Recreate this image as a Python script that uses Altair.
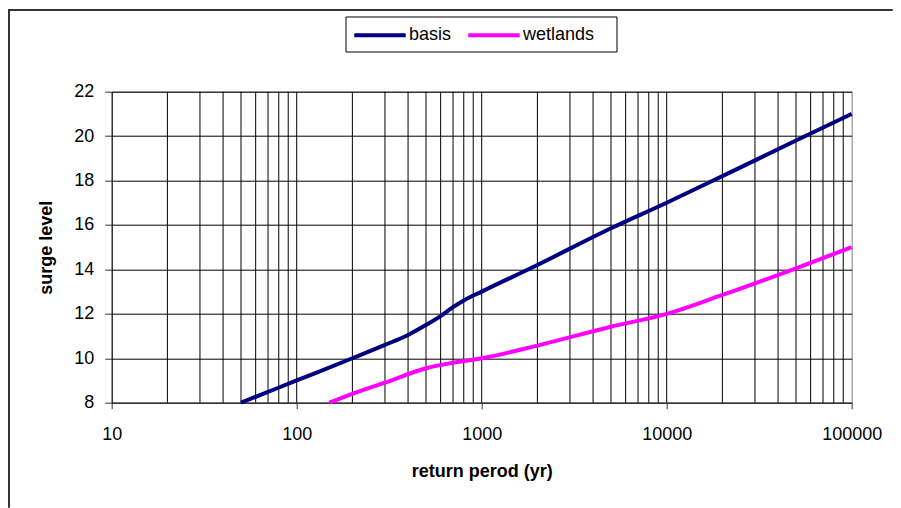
import altair as alt
import pandas as pd

# ---- data ----
basis_period = [50, 100, 200, 300, 400, 500, 600, 700, 800, 1000, 2000, 5000, 10000, 20000, 50000, 100000]
basis_level = [8.0, 9.0, 10.0, 10.6, 11.05, 11.5, 11.9, 12.3, 12.6, 13.0, 14.2, 15.85, 17.0, 18.2, 19.8, 21.0]

wet_period = [150, 200, 300, 500, 700, 1000, 2000, 5000, 10000, 20000, 50000, 100000]
wet_level = [8.0, 8.4, 8.9, 9.55, 9.8, 10.0, 10.57, 11.42, 12.0, 12.85, 14.05, 15.0]

series_names = ["basis", "wetlands"]
series_colors = ["#000080", "#FF00FF"]

x_ticks = [10, 100, 1000, 10000, 100000]
y_ticks = [8, 10, 12, 14, 16, 18, 20, 22]
minor_grid = [m * d for d in [10, 100, 1000, 10000] for m in range(1, 10)][1:]

FONT = "Liberation Sans"

df = pd.concat([
    pd.DataFrame({"period": basis_period, "level": basis_level, "series": "basis"}),
    pd.DataFrame({"period": wet_period, "level": wet_level, "series": "wetlands"}),
])
grid_df = pd.DataFrame({"period": minor_grid})

xscale = alt.Scale(type="log", domain=[10, 100000])
yscale = alt.Scale(domain=[8, 22])

one = pd.DataFrame({"a": [0]})

# outer chart frame (decoration): thin filled bars for top and left edges
frame_top = alt.Chart(one).mark_rect(fill="#333333", strokeWidth=0).encode(
    x=alt.value(-103.7), x2=alt.value(781), y=alt.value(-82.7), y2=alt.value(-80.7)
)
frame_left = alt.Chart(one).mark_rect(fill="#333333", strokeWidth=0).encode(
    x=alt.value(-103.7), x2=alt.value(-101.7), y=alt.value(-82.7), y2=alt.value(416)
)
# legend box (decoration)
legend_box = alt.Chart(one).mark_rect(fill="#ffffff", stroke="#000000", strokeWidth=1).encode(
    x=alt.value(234.3), x2=alt.value(505.3), y=alt.value(-74.7), y2=alt.value(-39.7)
)

vgrid = alt.Chart(grid_df).mark_rule(color="#000000", strokeWidth=1).encode(
    x=alt.X("period:Q", scale=xscale)
)

lines = alt.Chart(df).mark_line(strokeWidth=4, interpolate="monotone").encode(
    x=alt.X(
        "period:Q",
        scale=xscale,
        axis=alt.Axis(
            values=x_ticks,
            format="d",
            title="return perod (yr)",
            grid=False,
            tickSize=6,
            tickColor="#333333",
            domainColor="#333333",
            labelFontSize=18,
            labelFont=FONT,
            labelColor="#000000",
            labelPadding=17,
            labelFlush=False,
            labelOverlap=False,
            titleFont=FONT,
            titleFontSize=18,
            titleFontWeight="bold",
            titleColor="#000000",
            titleBaseline="middle",
            titleY=69,
        ),
    ),
    y=alt.Y(
        "level:Q",
        scale=yscale,
        axis=alt.Axis(
            values=y_ticks,
            title="surge level",
            grid=True,
            gridColor="#000000",
            gridOpacity=1,
            tickSize=7,
            tickColor="#333333",
            domainColor="#000000",
            labelFontSize=18,
            labelFont=FONT,
            labelColor="#000000",
            labelPadding=11,
            labelFlush=False,
            titleFont=FONT,
            titleFontSize=18,
            titleFontWeight="bold",
            titleColor="#000000",
            titleBaseline="middle",
            titleX=-65,
        ),
    ),
    color=alt.Color(
        "series:N",
        scale=alt.Scale(domain=series_names, range=series_colors),
        legend=alt.Legend(
            title=None,
            orient="none",
            legendX=240.3,
            legendY=-84.5,
            direction="horizontal",
            symbolType="stroke",
            symbolStrokeWidth=4,
            symbolSize=2650,
            labelFontSize=18,
            labelFont=FONT,
            labelColor="#000000",
            padding=0,
            labelOffset=1,
            columnPadding=8,
        ),
    ),
)

chart = alt.layer(frame_top, frame_left, legend_box, vgrid, lines).properties(
    width=740,
    height=311,
    autosize=alt.AutoSizeParams(type="none"),
    padding={"left": 103.7, "top": 83.7, "right": 41, "bottom": 105},
).configure_view(stroke="#808080", strokeWidth=1)

chart.save("out.html", embed_options={"renderer": "svg", "actions": False})
